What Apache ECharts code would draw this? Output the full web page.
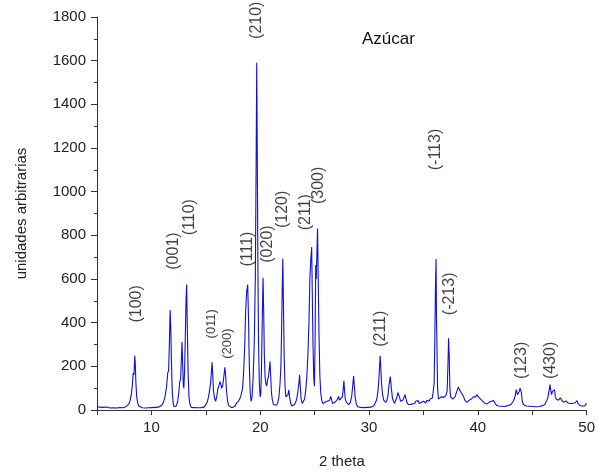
<!DOCTYPE html>
<html>
<head>
<meta charset="utf-8">
<title>Azúcar</title>
<script src="https://cdn.jsdelivr.net/npm/echarts@6/dist/echarts.min.js"></script>
<style>
  html, body { margin: 0; padding: 0; background: #fff; }
  #chart { width: 598px; height: 474px; }
</style>
</head>
<body>
<div id="chart"></div>
<script>
// 2 theta (degrees)
var twoTheta = [
  5.0, 5.15, 5.3, 5.45, 5.6, 5.75, 5.9, 6.05, 6.2, 6.35, 6.5, 6.65, 6.8, 6.95, 7.1, 7.25, 7.4, 7.55, 7.7, 7.85,
  7.95, 8.05, 8.15, 8.25, 8.33, 8.4, 8.47, 8.52, 8.58, 8.65, 8.75, 8.85, 9.0, 9.15, 9.3, 9.45, 9.6, 9.75, 9.9, 10.05,
  10.2, 10.35, 10.5, 10.65, 10.8, 10.95, 11.1, 11.25, 11.4, 11.5, 11.58, 11.65, 11.72, 11.78, 11.85, 11.92, 12.0, 12.08, 12.18, 12.3,
  12.42, 12.52, 12.6, 12.68, 12.75, 12.81, 12.87, 12.93, 12.98, 13.05, 13.12, 13.18, 13.24, 13.3, 13.37, 13.45, 13.55, 13.65, 13.8, 13.95,
  14.1, 14.25, 14.4, 14.55, 14.7, 14.85, 15.0, 15.12, 15.25, 15.35, 15.45, 15.52, 15.58, 15.63, 15.7, 15.8, 15.9, 16.0, 16.1, 16.2,
  16.3, 16.38, 16.45, 16.55, 16.65, 16.75, 16.82, 16.9, 17.0, 17.1, 17.25, 17.4, 17.55, 17.7, 17.8, 17.9, 18.0, 18.1, 18.2, 18.28,
  18.38, 18.48, 18.58, 18.66, 18.75, 18.85, 18.92, 19.0, 19.08, 19.16, 19.25, 19.35, 19.45, 19.55, 19.62, 19.68, 19.73, 19.78, 19.85, 19.92,
  20.0, 20.06, 20.12, 20.2, 20.26, 20.32, 20.38, 20.45, 20.52, 20.6, 20.68, 20.75, 20.82, 20.9, 20.96, 21.03, 21.12, 21.22, 21.35, 21.5,
  21.62, 21.72, 21.82, 21.9, 21.96, 22.02, 22.08, 22.13, 22.2, 22.28, 22.36, 22.45, 22.55, 22.63, 22.7, 22.8, 22.92, 23.05, 23.15, 23.25,
  23.35, 23.45, 23.55, 23.62, 23.68, 23.76, 23.86, 23.98, 24.08, 24.18, 24.28, 24.38, 24.48, 24.56, 24.66, 24.73, 24.78, 24.85, 24.92, 24.98,
  25.04, 25.1, 25.15, 25.2, 25.27, 25.33, 25.4, 25.48, 25.56, 25.65, 25.75, 25.85, 25.95, 26.05, 26.15, 26.25, 26.38, 26.48, 26.55, 26.65,
  26.75, 26.85, 26.95, 27.05, 27.13, 27.21, 27.28, 27.38, 27.45, 27.55, 27.62, 27.69, 27.75, 27.82, 27.92, 28.05, 28.15, 28.28, 28.4, 28.5,
  28.58, 28.65, 28.72, 28.82, 28.95, 29.1, 29.25, 29.4, 29.55, 29.7, 29.85, 30.0, 30.15, 30.3, 30.45, 30.55, 30.65, 30.75, 30.85, 30.95,
  31.02, 31.08, 31.15, 31.25, 31.35, 31.45, 31.55, 31.65, 31.75, 31.85, 31.96, 32.05, 32.15, 32.25, 32.35, 32.45, 32.55, 32.65, 32.72, 32.8,
  32.9, 33.0, 33.1, 33.2, 33.3, 33.38, 33.48, 33.6, 33.7, 33.8, 33.9, 34.0, 34.1, 34.2, 34.3, 34.42, 34.52, 34.62, 34.72, 34.82,
  34.92, 35.02, 35.12, 35.22, 35.32, 35.42, 35.52, 35.62, 35.72, 35.82, 35.9, 35.98, 36.04, 36.1, 36.16, 36.2, 36.24, 36.3, 36.38, 36.46,
  36.55, 36.62, 36.72, 36.8, 36.9, 37.0, 37.1, 37.18, 37.25, 37.31, 37.37, 37.43, 37.5, 37.6, 37.7, 37.8, 37.9, 38.0, 38.1, 38.2,
  38.26, 38.33, 38.4, 38.5, 38.6, 38.7, 38.8, 38.9, 39.0, 39.1, 39.2, 39.3, 39.4, 39.5, 39.6, 39.7, 39.8, 39.9, 39.98, 40.06,
  40.15, 40.25, 40.35, 40.45, 40.55, 40.65, 40.75, 40.85, 40.95, 41.05, 41.15, 41.25, 41.35, 41.45, 41.55, 41.65, 41.75, 41.85, 42.0, 42.15,
  42.3, 42.45, 42.6, 42.75, 42.9, 43.05, 43.15, 43.25, 43.35, 43.45, 43.52, 43.58, 43.65, 43.72, 43.8, 43.88, 43.94, 44.0, 44.08, 44.18,
  44.3, 44.45, 44.6, 44.75, 44.9, 45.05, 45.2, 45.35, 45.5, 45.65, 45.8, 45.95, 46.05, 46.15, 46.25, 46.35, 46.45, 46.55, 46.63, 46.7,
  46.78, 46.85, 46.95, 47.05, 47.12, 47.2, 47.3, 47.4, 47.5, 47.6, 47.7, 47.8, 47.9, 48.0, 48.1, 48.2, 48.3, 48.4, 48.5, 48.6,
  48.7, 48.8, 48.9, 49.0, 49.12, 49.2, 49.3, 49.4, 49.5, 49.6, 49.7, 49.8, 49.9, 50.0
]
// intensity (unidades arbitrarias), one per 2 theta value
var intensity = [
  14, 10, 13, 9, 12, 10, 14, 11, 9, 13, 10, 12, 9, 13, 11, 14, 10, 13, 16, 22,
  30, 45, 70, 115, 170, 160, 250, 210, 120, 60, 30, 18, 12, 10, 13, 9, 12, 10, 8, 11,
  9, 12, 10, 13, 16, 22, 35, 60, 110, 170, 180, 300, 458, 380, 200, 80, 30, 15, 12, 20,
  40, 80, 130, 140, 230, 311, 220, 115, 100, 180, 350, 500, 575, 380, 180, 60, 25, 12, 9, 11,
  8, 10, 9, 11, 10, 13, 20, 35, 60, 90, 130, 180, 218, 170, 90, 55, 40, 60, 95, 110,
  130, 120, 100, 110, 150, 196, 160, 90, 40, 20, 12, 10, 13, 18, 30, 25, 40, 35, 60, 55,
  100, 180, 300, 450, 540, 575, 430, 200, 80, 40, 60, 150, 300, 600, 1100, 1590, 1180, 700, 300, 120,
  60, 80, 200, 450, 606, 450, 250, 150, 120, 110, 140, 150, 180, 222, 160, 80, 45, 25, 20, 22,
  35, 60, 120, 200, 350, 550, 694, 500, 250, 110, 60, 55, 70, 91, 60, 30, 18, 20, 25, 35,
  50, 80, 120, 161, 110, 50, 30, 35, 50, 90, 150, 250, 400, 600, 700, 746, 550, 300, 150, 109,
  300, 664, 600, 700, 831, 600, 350, 160, 80, 45, 30, 28, 35, 30, 40, 35, 45, 62, 55, 30,
  25, 35, 30, 45, 50, 62, 45, 50, 40, 60, 90, 134, 90, 50, 35, 30, 25, 35, 60, 110,
  155, 110, 60, 30, 15, 10, 12, 9, 11, 8, 12, 10, 13, 18, 20, 30, 40, 60, 100, 180,
  248, 200, 120, 70, 45, 40, 35, 45, 70, 120, 153, 100, 55, 40, 30, 45, 55, 80, 85, 60,
  40, 35, 45, 55, 70, 55, 35, 25, 30, 25, 22, 28, 25, 30, 40, 35, 43, 30, 28, 35,
  30, 40, 35, 32, 45, 38, 40, 50, 45, 55, 60, 120, 300, 550, 691, 418, 300, 100, 50, 45,
  50, 60, 55, 65, 58, 60, 70, 90, 200, 329, 250, 100, 60, 55, 50, 55, 60, 75, 90, 105,
  113, 100, 85, 80, 70, 60, 45, 40, 35, 38, 45, 40, 50, 55, 60, 65, 60, 70, 65, 60,
  55, 50, 45, 40, 35, 30, 25, 28, 30, 35, 38, 40, 38, 43, 35, 25, 20, 18, 15, 17,
  14, 16, 18, 20, 22, 25, 30, 40, 50, 70, 93, 85, 70, 75, 85, 100, 107, 80, 40, 25,
  20, 18, 16, 17, 15, 16, 14, 15, 17, 16, 18, 20, 22, 25, 35, 45, 60, 90, 116, 90,
  70, 85, 80, 93, 60, 50, 55, 45, 50, 55, 45, 40, 35, 38, 42, 40, 32, 28, 30, 27,
  30, 28, 32, 35, 43, 30, 25, 20, 22, 18, 15, 18, 25, 30
]
var xTicks = [10, 20, 30, 40, 50]
var yTicks = [0, 200, 400, 600, 800, 1000, 1200, 1400, 1600, 1800]
// Miller index labels: text, 2 theta and height (centre of the rotated text)
var peakNames = ['(100)', '(001)', '(110)', '(011)', '(200)', '(111)', '(210)', '(020)',
  '(120)', '(211)', '(300)', '(211)', '(-113)', '(-213)', '(123)', '(430)']
var peakTheta = [8.68, 12.06, 13.52, 15.52, 16.98, 18.81, 19.63, 20.64,
  22.1, 24.2, 25.38, 31.04, 36.15, 37.43, 43.99, 46.64]
var peakHeight = [486, 728, 883, 395, 304, 737, 1785, 760,
  919, 906, 1029, 372, 1193, 532, 227, 227]
var smallLabels = ['(011)', '(200)']

var lineData = twoTheta.map(function (t, i) { return [t, intensity[i]] })
var labelData = peakNames.map(function (n, i) {
  return {
    name: n,
    value: [peakTheta[i], peakHeight[i]],
    label: { fontSize: smallLabels.indexOf(n) >= 0 ? 13 : 16 }
  }
})

var font = 'Liberation Sans, Arial, sans-serif'
var chart = echarts.init(document.getElementById('chart'), null, { renderer: 'canvas' })
chart.setOption({
  animation: false,
  textStyle: { fontFamily: font },
  grid: { left: 97, right: 8, top: 17, bottom: 62 },
  xAxis: {
    type: 'value',
    min: 5,
    max: 50,
    interval: 5,
    name: '2 theta',
    nameLocation: 'middle',
    nameGap: 44,
    nameTextStyle: { fontSize: 15, color: '#222', fontFamily: font },
    axisLine: { lineStyle: { color: '#333', width: 1 } },
    axisTick: { length: 5, lineStyle: { color: '#333' } },
    axisLabel: {
      fontSize: 15,
      color: '#222',
      margin: 10,
      fontFamily: font,
      formatter: function (v) { return xTicks.indexOf(v) >= 0 ? String(v) : '' }
    },
    splitLine: { show: false }
  },
  yAxis: {
    type: 'value',
    min: yTicks[0],
    max: yTicks[yTicks.length - 1],
    interval: 200,
    name: 'unidades arbitrarias',
    nameLocation: 'middle',
    nameGap: 68,
    nameTextStyle: { fontSize: 15, color: '#222', fontFamily: font },
    axisLine: { show: true, lineStyle: { color: '#333', width: 1 } },
    axisTick: { show: true, length: 6, lineStyle: { color: '#333' } },
    minorTick: { show: true, splitNumber: 2, length: 3, lineStyle: { color: '#333' } },
    axisLabel: {
      fontSize: 15,
      color: '#222',
      margin: 11,
      fontFamily: font,
      formatter: function (v) { return String(v) }
    },
    splitLine: { show: false }
  },
  graphic: [{
    type: 'text',
    left: 362,
    top: 31,
    style: { text: 'Azúcar', fontSize: 17, fill: '#111', fontFamily: font }
  }],
  series: [
    {
      type: 'line',
      data: lineData,
      symbol: 'none',
      smooth: false,
      lineStyle: { color: '#1010d8', width: 1.1 },
      z: 2
    },
    {
      type: 'scatter',
      data: labelData,
      symbolSize: 0,
      silent: true,
      label: {
        show: true,
        position: 'inside',
        rotate: 90,
        color: '#111',
        fontFamily: font,
        formatter: function (p) { return p.name }
      },
      z: 3
    }
  ]
})
</script>
</body>
</html>
